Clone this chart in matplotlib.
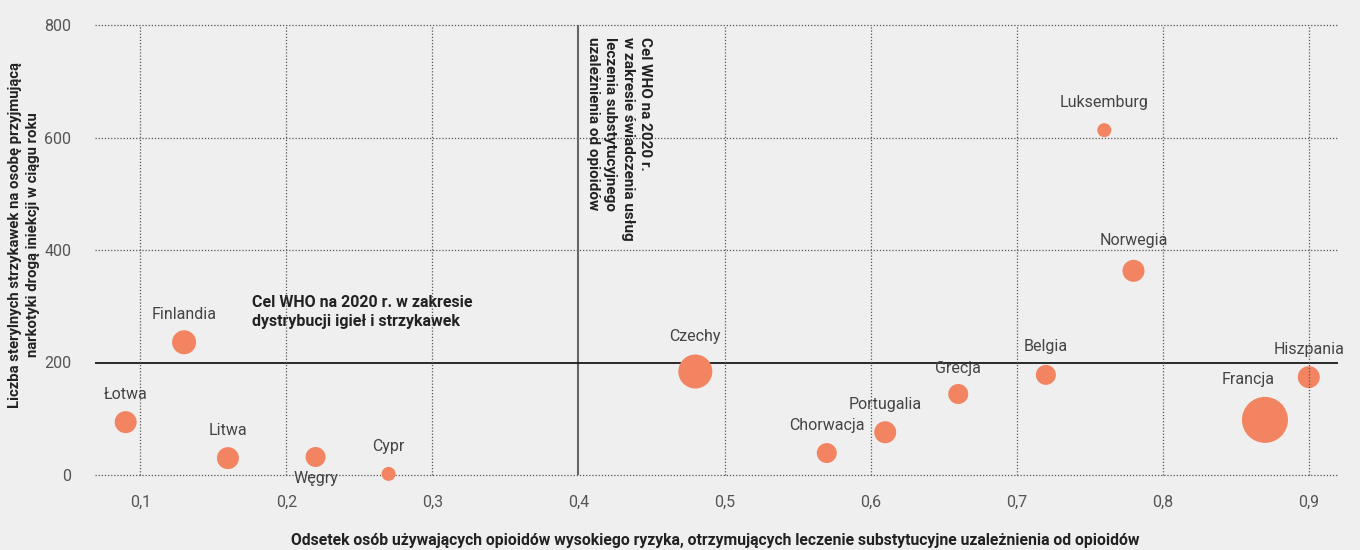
import numpy as np
import matplotlib.pyplot as plt

# dane
kraje = ["Łotwa", "Finlandia", "Litwa", "Węgry", "Cypr", "Czechy", "Chorwacja",
         "Portugalia", "Grecja", "Belgia", "Luksemburg", "Norwegia", "Francja", "Hiszpania"]
odsetek = [0.09, 0.13, 0.16, 0.22, 0.27, 0.48, 0.57, 0.61, 0.66, 0.72, 0.76, 0.78, 0.87, 0.90]
strzykawki = [94, 236, 30, 32, 2, 184, 39, 76, 144, 178, 613, 363, 98, 174]
# relatywna wielkosc babelka (promien)
wielkosc = [11, 12, 11, 10, 7, 17, 10, 11, 10, 10, 7, 11, 23, 11]

x_ticks = [0.1, 0.2, 0.3, 0.4, 0.5, 0.6, 0.7, 0.8, 0.9]
x_tick_labels = ["0,1", "0,2", "0,3", "0,4", "0,5", "0,6", "0,7", "0,8", "0,9"]
y_ticks = [0, 200, 400, 600, 800]

cel_x = 0.4
cel_y = 200

# przesuniecia etykiet (piksele)
offsets = {"Węgry": (0, -22), "Francja": (-17, 40), "Czechy": (0, 35),
           "Grecja": (0, 25), "Norwegia": (0, 30), "Cypr": (0, 27)}

plt.rcParams['font.family'] = ['Roboto', 'DejaVu Sans']
bg = "#efefef"
fig = plt.figure(figsize=(13.6, 5.5), dpi=100, facecolor=bg)
ax = fig.add_axes([95/1360, 75/550, (1338-95)/1360, 450/550])
ax.set_facecolor(bg)
ax.set_xlim(0.069, 0.92)
ax.set_ylim(0, 800)

# pionowe linie siatki nad babelkami, poziome pod nimi
for xt in x_ticks:
    if xt == cel_x:
        continue
    ax.axvline(xt, color="#555555", lw=0.9, ls=(0, (1, 1.5)), zorder=4, clip_on=False)
for yt in y_ticks:
    if yt == cel_y:
        continue
    ax.axhline(yt, color="#555555", lw=0.9, ls=(0, (1, 1.5)), zorder=1, clip_on=False)
ax.axvline(cel_x, color="#666666", lw=1.5, zorder=2)
ax.axhline(cel_y, color="#1a1a1a", lw=1.3, zorder=2)

s = [(2 * r * 0.72) ** 2 for r in wielkosc]
ax.scatter(odsetek, strzykawki, s=s, color="#f28462", edgecolors="none", zorder=3, clip_on=False)

for k, x, y in zip(kraje, odsetek, strzykawki):
    dx, dy = offsets.get(k, (0, 28))
    ax.annotate(k, (x, y), xytext=(dx, dy), textcoords="offset pixels",
                ha="center", va="center", fontsize=11.5, color="#444444", zorder=5)

ax.text(0.1767, 290, "Cel WHO na 2020 r. w zakresie\ndystrybucji igieł i strzykawek",
        fontsize=11.5, fontweight="bold", color="#222222", va="center", ha="left",
        linespacing=1.3)
ax.text(0.4052, 778, "Cel WHO na 2020 r.\nw zakresie świadczenia usług\nleczenia substytucyjnego\nuzależnienia od opioidów",
        fontsize=11, fontweight="bold", color="#222222", rotation=270,
        va="top", ha="left", linespacing=1.3)

ax.set_xticks(x_ticks)
ax.set_xticklabels(x_tick_labels)
ax.set_yticks(y_ticks)
ax.tick_params(length=0, labelsize=11.5, labelcolor="#555555")
ax.tick_params(axis="x", pad=14)
ax.tick_params(axis="y", pad=17)
for sp in ax.spines.values():
    sp.set_visible(False)

fig.text(715/1360, 1 - 541/550,
         "Odsetek osób używających opioidów wysokiego ryzyka, otrzymujących leczenie substytucyjne uzależnienia od opioidów",
         fontsize=11.3, fontweight="bold", color="#222222", ha="center", va="center")
fig.text(24/1360, 1 - 235/550, "Liczba sterylnych strzykawek na osobę przyjmującą\nnarkotyki drogą iniekcji w ciągu roku",
         rotation=90, fontsize=10.7, fontweight="bold", color="#222222",
         ha="center", va="center", linespacing=1.35)

fig.savefig("out.png", dpi=100, facecolor=bg)
